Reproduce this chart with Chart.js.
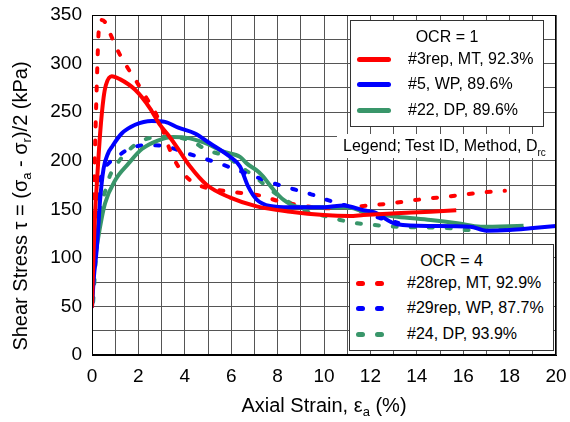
<!DOCTYPE html>
<html>
<head>
<meta charset="utf-8">
<script src="https://cdn.jsdelivr.net/npm/chart.js@4/dist/chart.umd.min.js"></script>
<style>
  body { margin: 0; background: #fff; }
  #wrap { position: relative; width: 570px; height: 422px; font-family: "Liberation Sans", Arial, sans-serif; color: #000; }
  #chart { position: absolute; left: 0; top: 0; }
  .ytitle { position: absolute; left: -190px; top: 194px; width: 420px; height: 24px; line-height: 24px;
            text-align: center; font-size: 20px; transform: rotate(-90deg); white-space: nowrap; }
  .xtitle { position: absolute; left: 0; top: 394px; width: 648px; text-align: center; font-size: 20px; white-space: nowrap; }
  sub { font-size: 13px; vertical-align: -4px; line-height: 0; }
  .box { position: absolute; background: #fff; border: 1px solid #333; font-size: 16px; }
  .box .head { position: absolute; top: 7px; left: 0; width: 100%; text-align: center; }
  .row { position: absolute; left: 57px; height: 20px; line-height: 20px; white-space: nowrap; }
  .sw { position: absolute; height: 5px; border-radius: 3px; }
  .cap { position: absolute; left: 337px; top: 134px; width: 218px; height: 24px; line-height: 24px;
         background: #fff; font-size: 16px; padding-left: 6px; box-sizing: border-box; white-space: nowrap; }
  .cap sub { font-size: 10px; vertical-align: -5px; }
</style>
</head>
<body>
<div id="wrap">
  <canvas id="chart" width="570" height="422"></canvas>
  <div class="ytitle">Shear Stress &tau; = (&sigma;<sub>a</sub> - &sigma;<sub>r</sub>)/2 (kPa)</div>
  <div class="xtitle">Axial Strain, &epsilon;<sub>a</sub> (%)</div>

  <div class="box" style="left:350px; top:20px; width:192px; height:105px;">
    <div class="head">OCR = 1</div>
    <div class="sw" style="left:6px; width:34px; top:36px; background:#ff0000"></div>
    <div class="row" style="top:28px">#3rep, MT, 92.3%</div>
    <div class="sw" style="left:6px; width:34px; top:61px; background:#0000ff"></div>
    <div class="row" style="top:53px">#5, WP, 89.6%</div>
    <div class="sw" style="left:6px; width:34px; top:87px; background:#39966a"></div>
    <div class="row" style="top:79px">#22, DP, 89.6%</div>
  </div>

  <div class="cap">Legend; Test ID, Method, D<sub>rc</sub></div>

  <div class="box" style="left:349px; top:244px; width:203px; height:105px;">
    <div class="head">OCR = 4</div>
    <div class="sw" style="left:6px; width:9px; top:36px; background:#ff0000"></div>
    <div class="sw" style="left:25px; width:9px; top:36px; background:#ff0000"></div>
    <div class="row" style="top:28px">#28rep, MT, 92.9%</div>
    <div class="sw" style="left:6px; width:9px; top:61px; background:#0000ff"></div>
    <div class="sw" style="left:25px; width:9px; top:61px; background:#0000ff"></div>
    <div class="row" style="top:53px">#29rep, WP, 87.7%</div>
    <div class="sw" style="left:6px; width:9px; top:87px; background:#39966a"></div>
    <div class="sw" style="left:25px; width:9px; top:87px; background:#39966a"></div>
    <div class="row" style="top:79px">#24, DP, 93.9%</div>
  </div>
</div>

<script>
// ---- data (axial strain %, shear stress kPa) ----

// OCR = 1
const mt3X = [0, 0.07, 0.14, 0.2, 0.35, 0.5, 0.6, 0.85, 1.2, 1.86, 2.5, 2.9, 3.3, 3.66, 4.23, 4.95, 5.96, 7.1, 8.55, 10.0, 11.1, 11.7, 13.1, 14.6, 15.7];
const mt3Y = [50, 108, 150, 173, 228, 265, 278, 287, 284, 273, 254, 238, 226, 214, 194, 175, 162, 153, 147.5, 144, 143, 144, 145.8, 147.5, 149];

const wp5X = [0, 0.08, 0.2, 0.35, 0.5, 0.7, 0.85, 1.28, 1.86, 2.57, 3.15, 3.72, 4.44, 5.08, 5.95, 6.38, 6.74, 7.1, 7.67, 8.53, 9.97, 10.26, 10.83, 11.7, 12.15, 13.15, 14.6, 16.3, 17.0, 18.0, 18.9, 20];
const wp5Y = [50, 80, 108, 160, 192, 208, 214, 228, 237, 241, 240, 234, 228, 218, 204, 194, 173, 160, 153.4, 152, 152, 152.7, 154, 149, 147, 134.5, 132.8, 132, 128, 128.7, 130.4, 132.8];

const dp22X = [0, 0.05, 0.13, 0.35, 0.56, 1.0, 1.57, 2.15, 2.86, 3.5, 4.22, 5.0, 5.67, 6.38, 6.68, 7.1, 7.33, 7.83, 8.26, 8.84, 10.0, 11.14, 11.7, 13.15, 14.6, 15.75, 16.76, 18.6];
const dp22Y = [52, 75, 98, 132, 156, 180, 197, 212, 221, 224.5, 223, 217, 209.3, 204, 197, 190, 185, 170, 159.6, 152.7, 152, 151.5, 147.5, 142.4, 139, 135.6, 132, 133];

// OCR = 4
const mt28X = [0, 0.05, 0.14, 0.2, 0.28, 0.38, 0.55, 0.78, 1.14, 1.5, 1.93, 2.36, 2.72, 3.0, 3.36, 3.72, 4.22, 4.8, 5.66, 6.53, 7.33, 8.12, 8.9, 10.0, 11.35, 12.15, 12.87, 13.7, 14.5, 15.3, 16.1, 16.9, 17.8];
const mt28Y = [50, 120, 221, 273, 330, 345, 343, 331, 312, 297, 281, 264, 250, 235, 211, 194, 180, 173, 169, 166.5, 163.7, 157.8, 154.4, 151, 152.7, 154.4, 156, 158.8, 161, 163, 165.4, 167.5, 169];

const wp29X = [0, 0.1, 0.25, 0.42, 0.7, 1.0, 1.64, 2.5, 3.23, 4.1, 4.8, 5.67, 7.1, 7.83, 8.7, 9.42, 10.14, 10.86, 11.6, 12.4, 13.2];
const wp29Y = [50, 110, 160, 187, 197, 202.5, 212.8, 216, 214.4, 207.6, 202.5, 195.6, 183, 176.7, 170.6, 165.7, 159.6, 154.4, 148, 141, 136];

const dp24X = [0.05, 0.2, 0.35, 0.56, 0.78, 1.2, 2.07, 3.08, 4.22, 4.95, 5.82, 6.38, 7.0, 7.69, 8.34, 9.13, 10.14, 10.7, 11.43, 12.15, 13.16, 15.46, 16.0, 17.5, 19.0];
const dp24Y = [55, 110, 149, 168, 185, 200.7, 219.6, 224.7, 221, 211, 204, 194, 184, 170, 159.6, 149, 142.4, 139, 135.6, 133.8, 132, 130.4, 128.7, 130, 131];

// axis ticks
const xMin = 0, xMax = 20, xStep = 1, xLabelEvery = 2;
const yMin = 0, yMax = 350, yStep = 25, yLabelEvery = 50;

const RED = "#ff0000", BLUE = "#0000ff", GREEN = "#39966a";
const FONT = "'Liberation Sans', Arial, sans-serif";

function pts(xs, ys) {
    return xs.map((x, i) => ({ x: x, y: ys[i] }));
}

function series(label, xs, ys, color, dashed) {
    return {
        label: label,
        data: pts(xs, ys),
        borderColor: color,
        backgroundColor: color,
        borderWidth: 4,
        borderDash: dashed ? [4, 14] : [],
        borderCapStyle: dashed ? "round" : "butt",
        borderJoinStyle: "round",
        showLine: true,
        pointRadius: 0,
        cubicInterpolationMode: "monotone",
        fill: false
    };
}

new Chart(document.getElementById("chart"), {
    type: "scatter",
    data: {
        datasets: [
            series("#3rep, MT, 92.3%", mt3X, mt3Y, RED, false),
            series("#5, WP, 89.6%", wp5X, wp5Y, BLUE, false),
            series("#22, DP, 89.6%", dp22X, dp22Y, GREEN, false),
            series("#28rep, MT, 92.9%", mt28X, mt28Y, RED, true),
            series("#29rep, WP, 87.7%", wp29X, wp29Y, BLUE, true),
            series("#24, DP, 93.9%", dp24X, dp24Y, GREEN, true)
        ]
    },
    options: {
        responsive: false,
        animation: false,
        devicePixelRatio: 1,
        layout: { padding: { top: 15, right: 14, left: 0, bottom: 0 } },
        plugins: {
            legend: { display: false },
            tooltip: { enabled: false }
        },
        scales: {
            x: {
                type: "linear",
                min: xMin,
                max: xMax,
                afterFit: s => { s.height = 67; s.paddingLeft = 0; s.paddingRight = 0; },
                border: { display: true, color: "#000", width: 1 },
                grid: { color: "#555", lineWidth: 1, drawTicks: false },
                ticks: {
                    stepSize: xStep,
                    autoSkip: false,
                    maxRotation: 0,
                    padding: 10,
                    color: "#000",
                    font: { family: FONT, size: 19 },
                    callback: v => (v % xLabelEvery === 0 ? v : "")
                }
            },
            y: {
                min: yMin,
                max: yMax,
                afterFit: s => { s.width = 92; s.paddingTop = 0; s.paddingBottom = 0; },
                border: { display: true, color: "#000", width: 1 },
                grid: { color: "#555", lineWidth: 1, drawTicks: false },
                ticks: {
                    stepSize: yStep,
                    autoSkip: false,
                    padding: 10,
                    color: "#000",
                    font: { family: FONT, size: 19 },
                    callback: v => (v % yLabelEvery === 0 ? v : "")
                }
            }
        }
    },
    plugins: [{
        id: "frame",
        afterDraw(chart) {
            const a = chart.chartArea, c = chart.ctx;
            c.save();
            c.strokeStyle = "#000";
            c.lineWidth = 1;
            c.strokeRect(a.left + 0.5, a.top + 0.5, a.right - a.left - 1, a.bottom - a.top - 1);
            c.restore();
        }
    }]
});
</script>
</body>
</html>
